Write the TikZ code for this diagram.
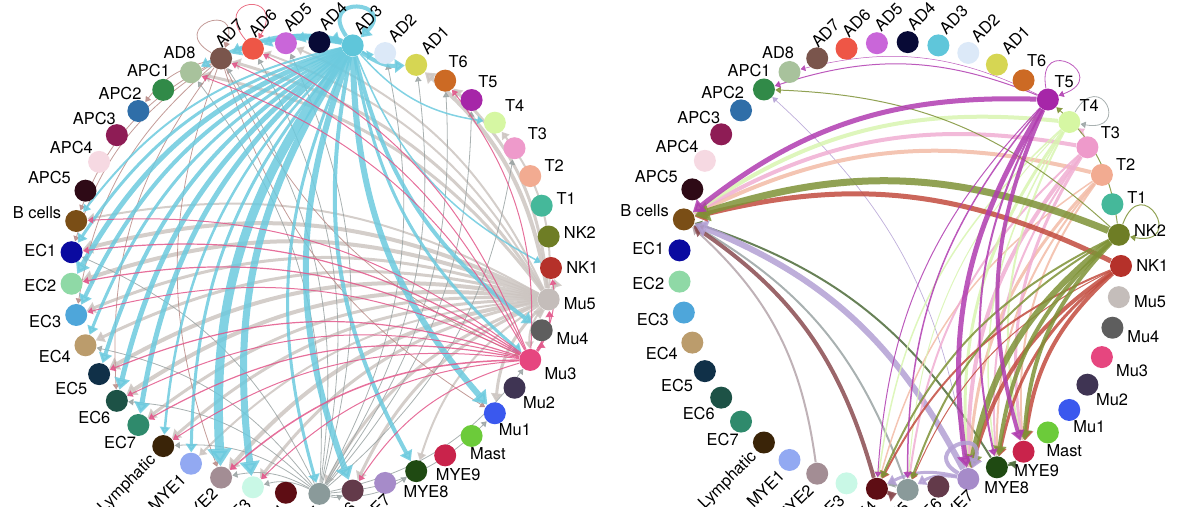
\documentclass[tikz,border=0pt]{standalone}
\usepackage{fontspec}
\setmainfont{TeX Gyre Heros}
\usepackage{xcolor}
\usetikzlibrary{arrows.meta, calc}

% cell colours
\definecolor{cNK1}{HTML}{B5312A}
\definecolor{cNK2}{HTML}{6E7D25}
\definecolor{cT1}{HTML}{45B89A}
\definecolor{cT2}{HTML}{F2AB91}
\definecolor{cT3}{HTML}{EE9ACB}
\definecolor{cT4}{HTML}{D6F7A3}
\definecolor{cT5}{HTML}{A626A8}
\definecolor{cT6}{HTML}{CC6A24}
\definecolor{cAD1}{HTML}{D6D653}
\definecolor{cAD2}{HTML}{DCE9F8}
\definecolor{cAD3}{HTML}{5FC6DA}
\definecolor{cAD4}{HTML}{080A36}
\definecolor{cAD5}{HTML}{C966D9}
\definecolor{cAD6}{HTML}{EE5646}
\definecolor{cAD7}{HTML}{7A554C}
\definecolor{cAD8}{HTML}{A8C29C}
\definecolor{cAPC1}{HTML}{318A48}
\definecolor{cAPC2}{HTML}{2F6EA8}
\definecolor{cAPC3}{HTML}{8E1C55}
\definecolor{cAPC4}{HTML}{F6D9E2}
\definecolor{cAPC5}{HTML}{2E0A16}
\definecolor{cBcells}{HTML}{7A4E16}
\definecolor{cEC1}{HTML}{0A0AA0}
\definecolor{cEC2}{HTML}{8FD9A6}
\definecolor{cEC3}{HTML}{4EA6DA}
\definecolor{cEC4}{HTML}{BB9C6C}
\definecolor{cEC5}{HTML}{103048}
\definecolor{cEC6}{HTML}{1D5246}
\definecolor{cEC7}{HTML}{2F8A6C}
\definecolor{cLym}{HTML}{3A2408}
\definecolor{cMYE1}{HTML}{92A9F2}
\definecolor{cMYE2}{HTML}{A38D94}
\definecolor{cMYE3}{HTML}{C9F8E6}
\definecolor{cMYE4}{HTML}{5E0D14}
\definecolor{cMYE5}{HTML}{8A9A9A}
\definecolor{cMYE6}{HTML}{633A4A}
\definecolor{cMYE7}{HTML}{A68BC9}
\definecolor{cMYE8}{HTML}{1F4A12}
\definecolor{cMYE9}{HTML}{C9234B}
\definecolor{cMast}{HTML}{6CCB3A}
\definecolor{cMu1}{HTML}{3A58EE}
\definecolor{cMu2}{HTML}{3F3453}
\definecolor{cMu3}{HTML}{E6467F}
\definecolor{cMu4}{HTML}{5E5E5E}
\definecolor{cMu5}{HTML}{C4BDBA}
% link colours
\definecolor{eAD3}{HTML}{6CCADE}
\definecolor{eMu5}{HTML}{CCC5C1}
\definecolor{eMu3}{HTML}{E2578A}
\definecolor{eAD7}{HTML}{B98A86}
\definecolor{eMYE5}{HTML}{9AA3A3}
\definecolor{eT5}{HTML}{B03CB0}
\definecolor{eT4}{HTML}{D8F5B0}
\definecolor{eT3}{HTML}{F0AED2}
\definecolor{eT2}{HTML}{F2BBA6}
\definecolor{eNK2}{HTML}{7E9236}
\definecolor{eNK1}{HTML}{C24B3E}
\definecolor{eMYE7}{HTML}{B3A0D4}
\definecolor{eMYE4}{HTML}{8A4B50}
\definecolor{eMYE2}{HTML}{B4A4AA}
\definecolor{eMYE8}{HTML}{4D6B3A}

\pgfdeclarelayer{links}
\pgfsetlayers{links,main}

\begin{document}
\begin{tikzpicture}[x=0.5pt, y=0.5pt,
    every node/.style={font=\fontsize{8.2}{9.5}\selectfont},
    cell/.style={circle, inner sep=0pt, minimum size=11pt},
    tag/.style={inner sep=1pt},
    >={Triangle[length=2pt 1.5, width=2.4pt 2.1]},
    sig/.style={->, opacity=.85}]
    \useasboundingbox (0,0) rectangle (1191,507);
    \clip (0,0) rectangle (1191,507);
    % Cells on both circles
    \foreach \s/\cx/\cy/\rx/\ry in {l/311/239/240/226, r/900/241/221/224} {
        \foreach \n/\t [count=\i from 0] in {NK1/NK1, NK2/NK2, T1/T1, T2/T2, T3/T3, T4/T4, T5/T5, T6/T6,
            AD1/AD1, AD2/AD2, AD3/AD3, AD4/AD4, AD5/AD5, AD6/AD6, AD7/AD7, AD8/AD8,
            APC1/APC1, APC2/APC2, APC3/APC3, APC4/APC4, APC5/APC5, Bcells/B cells,
            EC1/EC1, EC2/EC2, EC3/EC3, EC4/EC4, EC5/EC5, EC6/EC6, EC7/EC7, Lym/Lymphatic,
            MYE1/MYE1, MYE2/MYE2, MYE3/MYE3, MYE4/MYE4, MYE5/MYE5, MYE6/MYE6, MYE7/MYE7, MYE8/MYE8, MYE9/MYE9,
            Mast/Mast, Mu1/Mu1, Mu2/Mu2, Mu3/Mu3, Mu4/Mu4, Mu5/Mu5} {
            \pgfmathtruncatemacro\a{8*\i}
            \pgfmathtruncatemacro\b{\a+180}
            \node[cell, fill=c\n] (\s\n) at ({\cx+\rx*cos(\a)}, {\cy+\ry*sin(\a)}) {};
            \def\tagrot{0}\let\taganc\b
            \ifnum\i>7 \ifnum\i<15 \def\tagrot{45}\def\taganc{west}\fi\fi
            \ifnum\i>28 \ifnum\i<37 \def\tagrot{45}\def\taganc{east}\fi\fi
            \node[tag, rotate=\tagrot, anchor=\taganc] (\s\n-tag) at ($(\s\n)+(\a:13)$) {\t};
        }
    }
    \begin{pgfonlayer}{links}
    % Left circle
    \foreach \src/\col/\targets in {
        Mu5/eMu5/{EC1/4, EC2/4, EC3/3, EC4/3, EC5/4, EC6/4, EC7/3, Lym/3, MYE1/2, MYE2/4, MYE3/3, MYE5/3, MYE6/3, MYE8/2, Mu1/3, Mu4/3, AD8/3, AD7/3, AD6/2, AD5/2, AD1/4, T6/3, Bcells/2, NK1/3, Mu3/2, T4/2},
        MYE5/eMYE5/{AD8/.8, AD7/.8, AD6/.8, AD5/.8, AD2/.8, AD1/.8, T6/.8, T5/.8, T3/.8, Mu3/.8, Mu1/.8, EC1/.8, EC4/.8, EC6/.8, Lym/.8, MYE2/.8, MYE3/.8, MYE6/.8, MYE8/.8},
        AD7/eAD7/{Bcells/.8, EC1/.8, EC3/.8, EC6/.8, MYE2/.8, Mu3/.8, Mu1/.8, APC2/.8},
        AD3/eAD3/{AD8/3, AD7/4, AD6/3, AD5/3, AD4/3, AD2/2, AD1/4, T4/1.5, NK1/1.5, Mu4/4, Mu3/3, Mu1/6, MYE8/4, MYE6/6, MYE5/3, MYE3/7, MYE2/9, MYE1/3, Lym/2.5, EC7/5, EC6/5, EC5/4, EC4/3, EC3/4, EC2/5, EC1/3, Bcells/2},
        Mu3/eMu3/{EC1/1.2, EC2/1.2, EC3/1, EC5/1.2, EC6/1, EC7/1.2, Lym/1, MYE2/1.5, MYE3/1, MYE6/1, AD8/1, AD7/1, AD6/1, T6/1, Mu4/1.5, Mu5/1.5, NK1/1, Bcells/1}} {
        \foreach \t/\w in \targets {
            \draw[sig, \col, line width=\w*.5pt] (l\src) to[bend right=20] (l\t);
        }
    }
    \draw[sig, eAD3, line width=2pt] (lAD3) to[out=125, in=45, looseness=9] (lAD3);
    \draw[sig, eAD7, line width=.4pt] (lAD7) to[out=150, in=70, looseness=9] (lAD7);
    \draw[sig, eMu3!60!cAD6, line width=.4pt] (lAD6) to[out=130, in=60, looseness=11] (lAD6);
    % Right circle
    \foreach \src/\col/\targets in {
        MYE2/eMYE2/{Bcells/2},
        MYE5/eMYE5/{Bcells/2, MYE4/2},
        MYE8/eMYE8/{Bcells/2, MYE9/2},
        MYE4/eMYE4/{Bcells/4, MYE5/3},
        MYE7/eMYE7/{Bcells/6, APC1/.7, MYE5/3, MYE4/3},
        T2/eT2/{Bcells/4, MYE7/3, MYE9/2, MYE4/1.5, MYE8/2},
        T3/eT3/{Bcells/4, MYE7/4, MYE9/3, MYE5/2, MYE8/2, T4/1},
        T4/eT4/{Bcells/4, MYE7/3, MYE9/2, MYE5/1, MYE4/1.5, MYE8/1.5},
        NK1/eNK1/{Bcells/5, MYE7/4, MYE9/4, MYE8/3, MYE4/2, MYE5/1},
        NK2/eNK2/{Bcells/7, MYE7/6, MYE9/4, MYE8/4, MYE5/2, MYE4/2, APC1/1, T5/1},
        T5/eT5/{Bcells/5, MYE7/5, MYE9/4, MYE5/1.5, MYE4/1, APC1/1, MYE8/2, AD8/.5}} {
        \foreach \t/\w in \targets {
            \draw[sig, \col, line width=\w*.5pt] (r\src) to[bend right=20] (r\t);
        }
    }
    \draw[sig, eT5, line width=.4pt] (rT5) to[out=100, in=20, looseness=10] (rT5);
    \draw[sig, eMYE5, line width=.4pt] (rT4) to[out=60, in=-10, looseness=10] (rT4);
    \draw[sig, eNK2, line width=.5pt] (rNK2) to[out=70, in=-10, looseness=10] (rNK2);
    \draw[sig, eMYE7, line width=2pt] (rMYE7) to[out=150, in=70, looseness=8] (rMYE7);
    \end{pgfonlayer}
\end{tikzpicture}
\end{document}
